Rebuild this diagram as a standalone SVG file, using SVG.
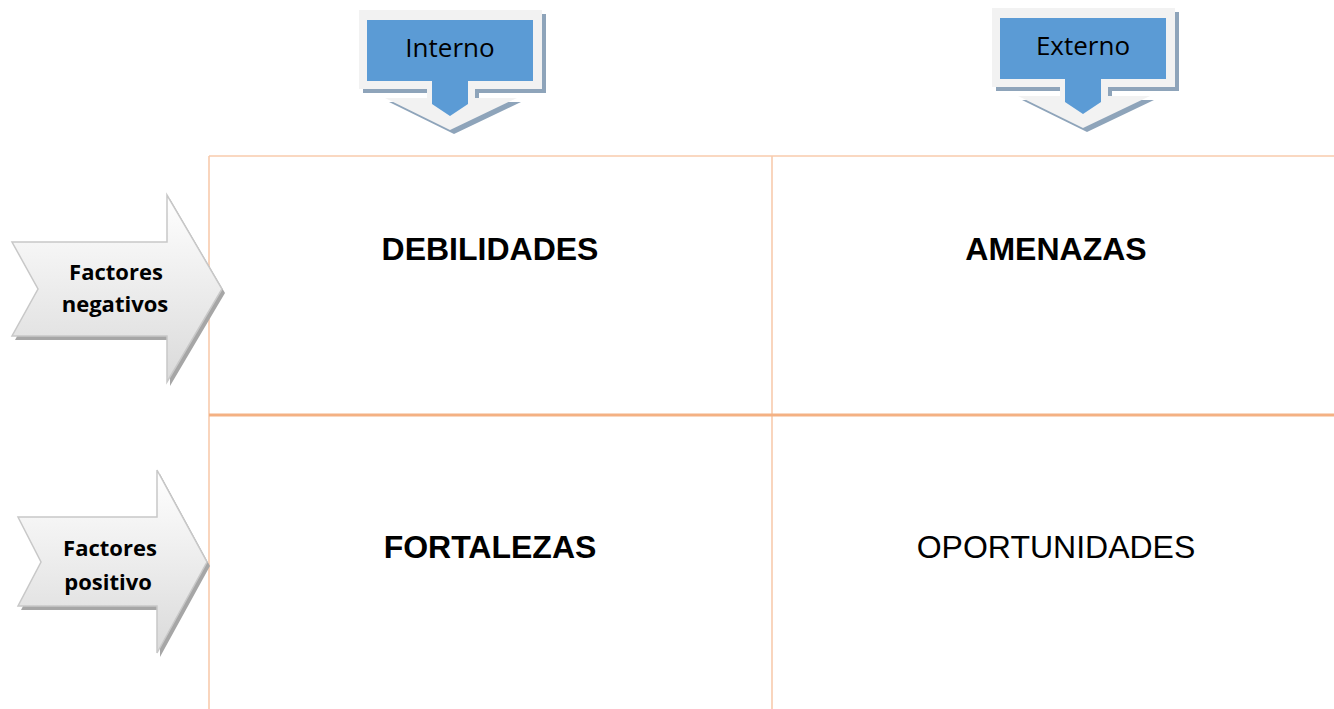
<svg xmlns="http://www.w3.org/2000/svg" width="1334" height="709" viewBox="0 0 1334 709">
<style>
.grid{stroke:#F8CBAD;stroke-width:1.6;fill:none}
.mid{stroke:#F4B183;stroke-width:3;fill:none}
.cell{font-family:"Liberation Sans",Arial,sans-serif;font-size:32px;fill:#000;text-anchor:middle}
.b{font-weight:bold}
.lbl{font-family:"Open Sans","Liberation Sans",sans-serif;font-size:26px;fill:#000;text-anchor:middle}
.fac{font-family:"Open Sans","Liberation Sans",sans-serif;font-size:22px;font-weight:bold;fill:#000;text-anchor:middle}
.frame{fill:#F2F2F2}
.shadow{fill:#8EA4BA}
.blue{fill:#5B9BD5}
.ashadow{fill:#A6A6A6}
.arrow{fill:url(#gr);stroke:#C8C8C8;stroke-width:1.5}
</style>
<defs>
<linearGradient id="gr" x1="0" y1="0" x2="0" y2="1">
<stop offset="0" stop-color="#FFFFFF"/>
<stop offset="1" stop-color="#DADADA"/>
</linearGradient>
<g id="callout">
<polygon class="shadow" transform="translate(4,4)" points="359,10 542,10 542,89 475,89 475,98 517,98 450,130 385,98 427,98 427,89 359,89"/>
<polygon class="frame" points="359,10 542,10 542,89 475,89 475,98 517,98 450,130 385,98 427,98 427,89 359,89"/>
<polygon class="blue" points="367,20 533,20 533,81 468,81 468,104 450,116 432,104 432,81 367,81"/>
</g>
</defs>
<g id="connectors">
<line class="grid" x1="209" y1="156" x2="1334" y2="156"/>
<line class="grid" x1="209" y1="156" x2="209" y2="709"/>
<line class="grid" x1="772" y1="156" x2="772" y2="709"/>
<line class="mid" x1="209" y1="415" x2="1334" y2="415"/>
</g>
<g id="interno">
<use href="#callout"/>
<text class="lbl" x="450" y="57">Interno</text>
</g>
<g id="externo">
<use href="#callout" transform="translate(633,-2)"/>
<text class="lbl" x="1083" y="55">Externo</text>
</g>
<g id="factores-negativos">
<polygon class="ashadow" transform="translate(3,4)" points="12,242 167,242 167,195 222,289 167,382 167,336 12,336 38,289"/>
<polygon class="arrow" points="12,242 167,242 167,195 222,289 167,382 167,336 12,336 38,289"/>
<text class="fac" x="116" y="280">Factores</text>
<text class="fac" x="115" y="312">negativos</text>
</g>
<g id="factores-positivo">
<polygon class="ashadow" transform="translate(3,4)" points="18,517 157,517 157,470 207,562 157,653 157,606 18,606 41,562"/>
<polygon class="arrow" points="18,517 157,517 157,470 207,562 157,653 157,606 18,606 41,562"/>
<text class="fac" x="110" y="556">Factores</text>
<text class="fac" x="108" y="590">positivo</text>
</g>
<g id="debilidades"><text class="cell b" x="490" y="260">DEBILIDADES</text></g>
<g id="amenazas"><text class="cell b" x="1056" y="260">AMENAZAS</text></g>
<g id="fortalezas"><text class="cell b" x="490" y="558">FORTALEZAS</text></g>
<g id="oportunidades"><text class="cell" x="1056" y="558">OPORTUNIDADES</text></g>
</svg>
